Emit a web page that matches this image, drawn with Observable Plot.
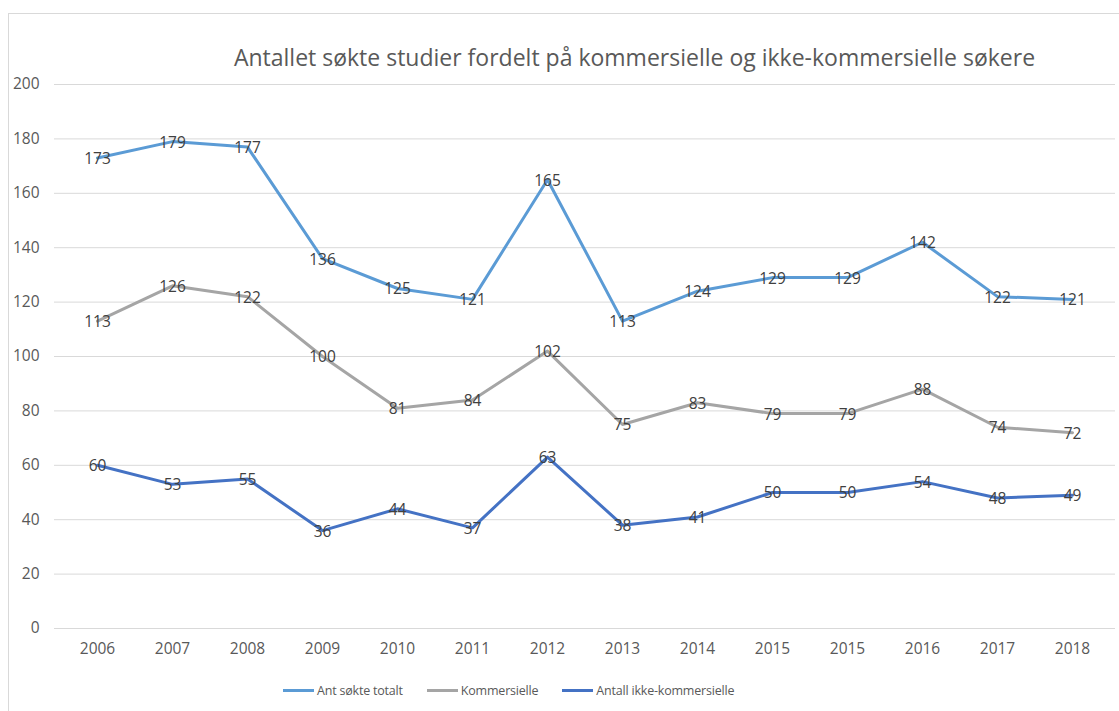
<!DOCTYPE html>
<html>
<head>
<meta charset="utf-8">
<script src="https://cdn.jsdelivr.net/npm/d3@7"></script>
<script src="https://cdn.jsdelivr.net/npm/@observablehq/plot@0.6"></script>
<style>
  html, body { margin: 0; padding: 0; background: #fff; }
  #wrap { position: relative; width: 1119px; height: 711px; overflow: hidden; font-family: "Open Sans", sans-serif; }
  #frame { position: absolute; left: 8px; top: 13px; width: 1200px; height: 800px; border: 1px solid #d9d9d9; box-sizing: border-box; }
  #title { position: absolute; left: 0; top: 39px; width: 1119px; padding-left: 150px; box-sizing: border-box; text-align: center; font-size: 23px; color: #595959; line-height: 36px; white-space: nowrap; }
  #chart { position: absolute; left: 0; top: 70px; }
  #legend { position: absolute; left: 283px; top: 682px; display: flex; align-items: center; font-size: 12.5px; letter-spacing: -0.2px; color: #595959; white-space: nowrap; }
  .item { display: flex; align-items: center; margin-right: 24px; }
  .sw { width: 31px; height: 3px; margin-right: 3px; }
</style>
</head>
<body>
<div id="wrap">
  <div id="frame"></div>
  <div id="title">Antallet søkte studier fordelt på kommersielle og ikke-kommersielle søkere</div>
  <div id="chart"></div>
  <div id="legend"></div>
</div>
<script>
const years = ["2006","2007","2008","2009","2010","2011","2012","2013","2014","2015","2015","2016","2017","2018"];
const totalt = [173,179,177,136,125,121,165,113,124,129,129,142,122,121];
const kommersielle = [113,126,122,100,81,84,102,75,83,79,79,88,74,72];
const ikkeKommersielle = [60,53,55,36,44,37,63,38,41,50,50,54,48,49];
const seriesNames = ["Ant søkte totalt","Kommersielle","Antall ikke-kommersielle"];
const seriesColors = ["#5B9BD5","#A5A5A5","#4472C4"];
const yTicks = [0,20,40,60,80,100,120,140,160,180,200];

const allSeries = [totalt, kommersielle, ikkeKommersielle];
const data = [];
allSeries.forEach((vals, s) => vals.forEach((v, i) => data.push({i, v, s: seriesNames[s]})));

const chart = Plot.plot({
  width: 1119,
  height: 600,
  marginLeft: 54,
  marginRight: 4,
  marginTop: 14,
  marginBottom: 42,
  style: {fontFamily: "'Open Sans', sans-serif", background: "transparent"},
  x: {type: "point", domain: d3.range(years.length), padding: 0.5, align: 0.5, label: null},
  y: {domain: [0, 200], label: null},
  color: {domain: seriesNames, range: seriesColors},
  marks: [
    Plot.ruleY(yTicks, {stroke: "#d9d9d9", strokeWidth: 1}),
    Plot.axisX({tickSize: 0, tickPadding: 14, fontSize: 15.5, color: "#595959", tickFormat: i => years[i]}),
    Plot.axisY({ticks: yTicks, tickSize: 0, tickPadding: 15, fontSize: 15.5, color: "#595959"}),
    Plot.line(data, {x: "i", y: "v", z: "s", stroke: "s", strokeWidth: 3, strokeLinejoin: "round", strokeLinecap: "round"}),
    Plot.text(data, {x: "i", y: "v", text: d => String(d.v), fill: "#404040", fontSize: 15.5, dy: 1})
  ]
});
document.getElementById("chart").appendChild(chart);

const legend = document.getElementById("legend");
seriesNames.forEach((name, k) => {
  const it = document.createElement("div");
  it.className = "item";
  const sw = document.createElement("span");
  sw.className = "sw";
  sw.style.background = seriesColors[k];
  const tx = document.createElement("span");
  tx.textContent = name;
  it.appendChild(sw); it.appendChild(tx);
  legend.appendChild(it);
});
</script>
</body>
</html>
